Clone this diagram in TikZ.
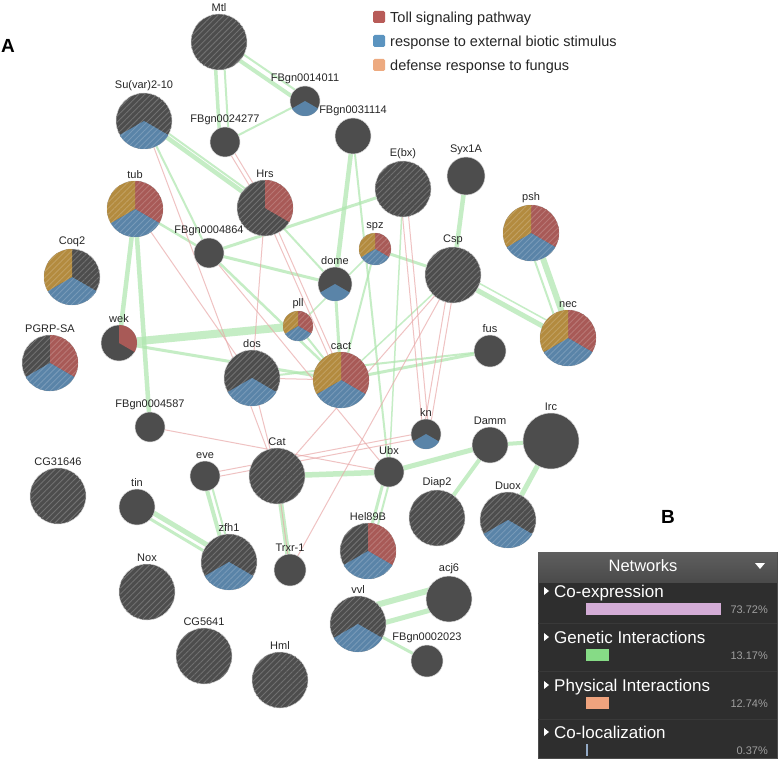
\documentclass[tikz,border=0pt]{standalone}
\usepackage{fontspec}
\setmainfont{Liberation Sans}
\usetikzlibrary{patterns.meta}
\pgfdeclarelayer{bg}
\pgfdeclarelayer{edges}
\pgfsetlayers{bg,edges,main}
\definecolor{nodegray}{HTML}{4D4D4D}
\definecolor{tollred}{HTML}{A85A57}
\definecolor{respblue}{HTML}{5A84A8}
\definecolor{fungold}{HTML}{B38B3F}
\definecolor{legred}{HTML}{B85B58}
\definecolor{legblue}{HTML}{5B94C0}
\definecolor{legpeach}{HTML}{EDAA80}
\definecolor{genegreen}{HTML}{ADE6AD}
\definecolor{physpink}{HTML}{E9A9A9}
\definecolor{panelbg}{HTML}{2E2E2E}
\definecolor{headtop}{HTML}{5F5F5F}
\definecolor{headbot}{HTML}{4A4A4A}
\definecolor{coexp}{HTML}{D3ACD6}
\definecolor{genint}{HTML}{86DB86}
\definecolor{physint}{HTML}{EFA37E}
\definecolor{coloc}{HTML}{93AAC6}

\begin{document}
\begin{tikzpicture}[
  x=1pt, y=-1pt,
  gene/.style={circle, fill=nodegray, draw=white!70!gray, line width=0.5pt, inner sep=0pt, minimum size=#1*2pt},
  lbl/.style={font=\fontsize{11}{13}\selectfont, text=black!85, inner sep=0.5pt, label distance=1.5pt},
  hatch/.style={pattern={Lines[angle=45,distance=4.2pt,line width=0.9pt]}, pattern color=#1},
  gen/.style={draw=genegreen, line width=#1pt, draw opacity=0.7},
  phys/.style={draw=physpink, line width=1pt, draw opacity=0.7},
  leg/.style={font=\fontsize{14.5}{16}\selectfont, text=black!85, anchor=base west, inner sep=0pt},
  panel/.style={font=\bfseries\fontsize{19}{20}\selectfont},
  rowtxt/.style={font=\fontsize{17}{19}\selectfont, text=white, anchor=base west, inner sep=0pt},
  pcttxt/.style={font=\fontsize{11}{13}\selectfont, text=gray!75, anchor=base east, inner sep=0pt}
]
\begin{pgfonlayer}{bg}
\fill[white] (0,0) rectangle (778,762);
\end{pgfonlayer}
\useasboundingbox (0,0) rectangle (778,762);

\node[panel] (pA) at (8,46) {A};
\node[panel] (pB) at (668,517) {B};

% genes
\foreach \n/\x/\y/\r/\lab in {
  mtl/219/42/28/Mtl, suvar/144/121/28/Su(var)2-10, fbg14011/305/101/15/FBgn0014011,
  fbg24277/225/142/15/FBgn0024277, fbg31114/353/136/18/FBgn0031114, tub/135/209/28/tub,
  hrs/265/208/28/Hrs, ebx/403/189/28/E(bx), syx/466/176/19/Syx1A, psh/531/233/28/psh,
  spz/375/249/16/spz, csp/453/275/28/Csp, dome/335/284/17/dome, coq/72/277/28/Coq2,
  fbg4864/209/253/15/FBgn0004864, wek/119/343/18/wek, pgrp/50/363/28/PGRP-SA,
  pll/298/326/15/pll, dos/252/378/28/dos, cact/341/380/28/cact, nec/568/338/28/nec,
  fus/490/351/16/fus, fbg4587/150/427/15/FBgn0004587, kn/426/434/15/kn,
  damm/490/445/18/Damm, irc/551/441/28/Irc, cg31646/58/496/28/CG31646,
  eve/205/476/15/eve, cat/277/476/28/Cat, ubx/389/472/15/Ubx, tin/137/507/18/tin,
  diap/437/518/28/Diap2, duox/508/520/28/Duox, zfh/229/562/28/zfh1,
  trxr/290/570/16/Trxr-1, hel/368/551/28/Hel89B, nox/147/592/28/Nox,
  acj/449/599/23/acj6, vvl/358/624/28/vvl, fbg2023/427/661/16/FBgn0002023,
  cg5641/204/656/28/CG5641, hml/280/680/28/Hml}
  \node[gene=\r, label={[lbl]above:\lab}] (\n) at (\x,\y) {};

\foreach \n/\r in {mtl/28, suvar/28, tub/28, hrs/28, ebx/28, psh/28, csp/28, coq/28,
  pgrp/28, dos/28, cact/28, nec/28, cg31646/28, cat/28, diap/28, duox/28, zfh/28,
  hel/28, nox/28, vvl/28, cg5641/28, hml/28, spz/16, pll/15}
  \fill[hatch=nodegray!80!white] (\n.center) circle[radius=\r pt];

% pie slices, hatched
\foreach \n/\r/\c/\a in {
  suvar/28/respblue/-30, tub/28/tollred/90, tub/28/respblue/-30, tub/28/fungold/210,
  hrs/28/tollred/90, coq/28/respblue/-30, coq/28/fungold/210,
  psh/28/tollred/90, psh/28/respblue/-30, psh/28/fungold/210,
  spz/16/tollred/90, spz/16/respblue/-30, spz/16/fungold/210,
  pgrp/28/tollred/90, pgrp/28/respblue/-30,
  pll/15/tollred/90, pll/15/respblue/-30, pll/15/fungold/210, dos/28/respblue/-30,
  cact/28/tollred/90, cact/28/respblue/-30, cact/28/fungold/210,
  nec/28/tollred/90, nec/28/respblue/-30, nec/28/fungold/210,
  duox/28/respblue/-30, zfh/28/respblue/-30, hel/28/tollred/90, hel/28/respblue/-30,
  vvl/28/respblue/-30}
  \fill[\c, postaction={hatch=\c!82!white}] (\n.center) -- ++(\a:\r pt)
    arc[start angle=\a, delta angle=-120, radius=\r pt] -- cycle;
% pie slices, plain
\foreach \n/\r/\c/\a in {fbg14011/15/respblue/-30, dome/17/respblue/-30,
  wek/18/tollred/90, kn/15/respblue/-30}
  \fill[\c] (\n.center) -- ++(\a:\r pt) arc[start angle=\a, delta angle=-120, radius=\r pt] -- cycle;

\begin{pgfonlayer}{edges}
\foreach \a/\b/\w/\dx/\dy in {
  mtl/fbg24277/3.5/-5/0, mtl/fbg24277/2/4/0, mtl/fbg14011/4/-2/3, mtl/fbg14011/2/2/-3,
  fbg14011/fbg24277/2/0/0, suvar/hrs/4.5/0/0, suvar/hrs/2/3/-3, suvar/fbg4864/2/0/0,
  tub/fbg4864/2.5/0/0, tub/wek/4.5/0/0, tub/fbg4587/4.5/0/0, wek/pll/8/0/0,
  wek/cact/3/0/0, fbg4864/dome/3/0/0, fbg4864/cact/2.5/0/0, fbg4864/ebx/3/0/0,
  hrs/dome/2/0/0, fbg31114/dome/4.5/0/0, fbg31114/ubx/2/0/0, dome/cact/3/0/0,
  spz/csp/3/0/0, spz/cact/2/0/0, spz/pll/1.5/0/0, syx/csp/4.5/0/0,
  cact/fus/3/0/0, dos/fus/2/0/0, pll/cact/2/0/0, cact/csp/1.5/0/0, ebx/ubx/1.5/0/0,
  csp/nec/5/0/2, csp/nec/1.5/2/-5, psh/nec/6/3/0, psh/nec/2/-6/0,
  cat/ubx/5.5/0/0, ubx/damm/5/0/0, damm/irc/4/0/0, damm/diap/4/0/0, irc/duox/5/0/0,
  ubx/hel/3/-3/0, ubx/hel/2/3/0, cat/trxr/5/0/0,
  eve/zfh/4/-2/0, eve/zfh/2/4/0, tin/zfh/5/0/-4, tin/zfh/3/0/4,
  vvl/acj/6/0/-14, vvl/acj/5/0/6, vvl/fbg2023/3/0/0}
  \draw[gen=\w] ([shift={(\dx,\dy)}]\a.center) -- ([shift={(\dx,\dy)}]\b.center);
\foreach \a/\b/\dx/\dy in {
  suvar/cat/0/0, tub/dos/0/0, fbg4864/ubx/0/0, hrs/dos/0/0, dos/cat/0/0, dos/cact/0/0,
  fbg4587/ubx/0/0, trxr/csp/0/0, cat/trxr/0/0, csp/cat/0/0,
  fbg24277/hrs/-2/0, fbg24277/hrs/3/0, hrs/cact/-2/0, hrs/cact/3/0,
  eve/kn/0/-2, eve/kn/0/3, ebx/kn/-3/0, ebx/kn/3/0, csp/kn/-3/0, csp/kn/3/0}
  \draw[phys] ([shift={(\dx,\dy)}]\a.center) -- ([shift={(\dx,\dy)}]\b.center);
\end{pgfonlayer}

% legend
\foreach \b/\c/\lab [count=\i] in {23/legred/Toll signaling pathway,
  47/legblue/response to external biotic stimulus, 71/legpeach/defense response to fungus} {
  \fill[\c, rounded corners=1.5pt] (373,\b-12) rectangle (385,\b);
  \node[leg] (leg\i) at (390,\b) {\lab};
}

% networks panel
\fill[panelbg, draw=gray!60!black] (538,552) rectangle (777,758);
\shade[top color=headtop, bottom color=headbot] (538,552) rectangle (777,582);
\node[font=\fontsize{16.5}{18}\selectfont, text=white] (nethead) at (643,566) {Networks};
\fill[white] (755,563) -- (765,563) -- (760,569) -- cycle;
\foreach \s in {623,671,719}
  \draw[gray!45!black, line width=0.8pt] (538,\s) -- (777,\s);
\foreach \b/\lab/\p/\w/\c [count=\i] in {597/Co-expression/73.72\%/135/coexp,
  643/Genetic Interactions/13.17\%/23/genint, 691/Physical Interactions/12.74\%/23/physint,
  738/Co-localization/0.37\%/1.5/coloc} {
  \fill[white] (544,\b-10) -- (549,\b-6) -- (544,\b-2) -- cycle;
  \node[rowtxt] (row\i) at (554,\b) {\lab};
  \fill[\c] (586,\b+6) rectangle ++(\w,12);
  \node[pcttxt] (pct\i) at (768,\b+16) {\p};
}
\end{tikzpicture}
\end{document}
